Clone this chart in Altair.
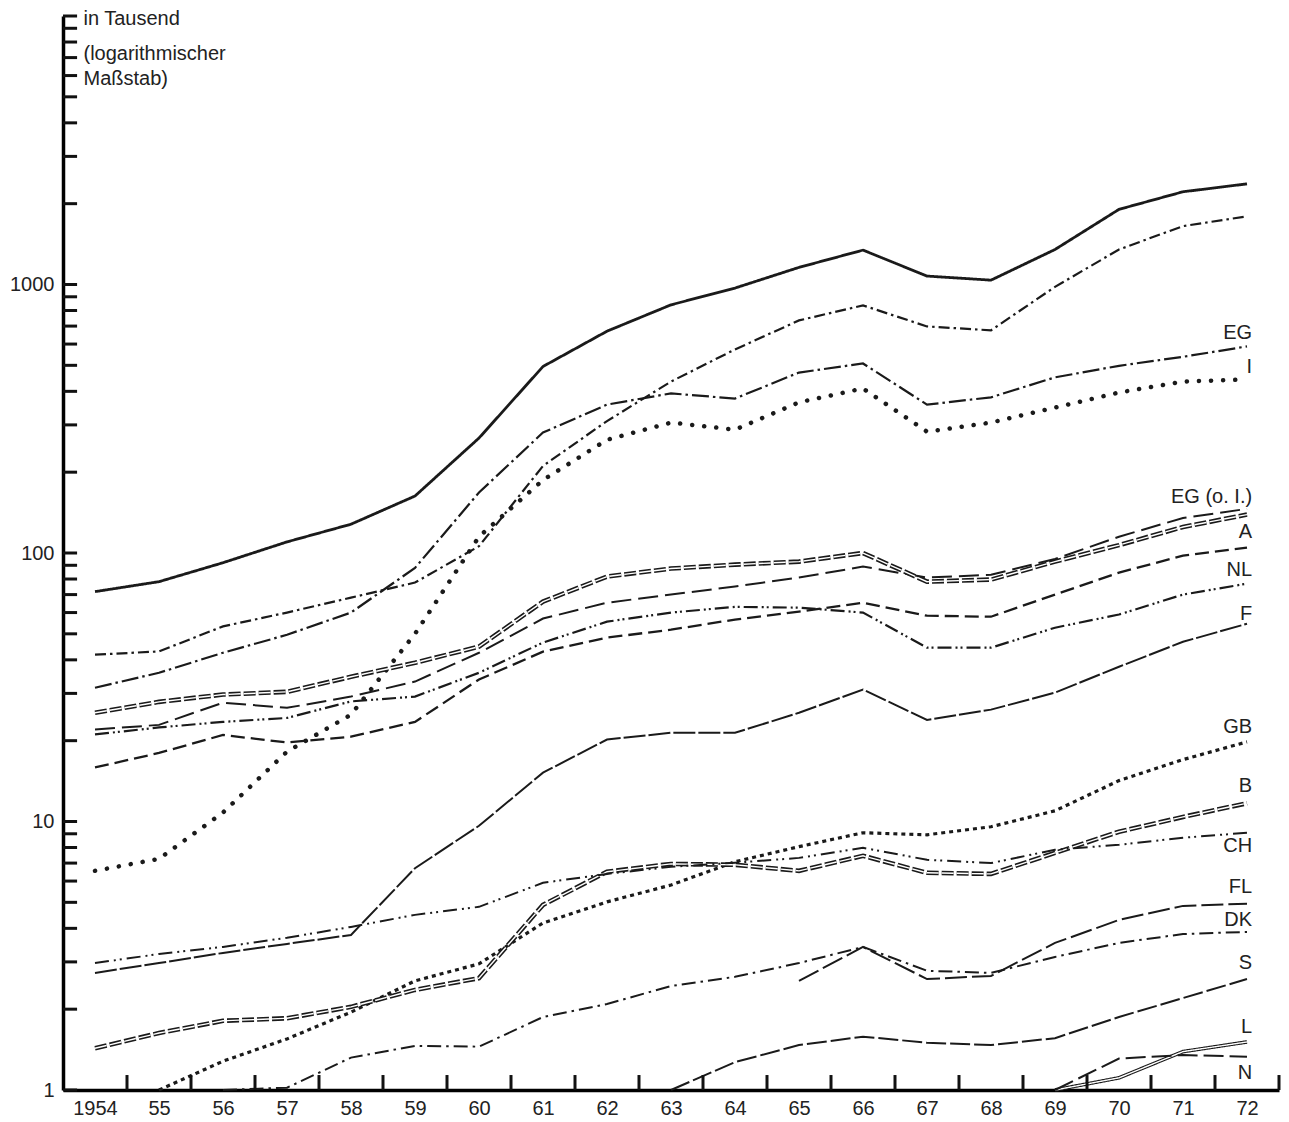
import altair as alt
import pandas as pd

years = list(range(1954, 1973))
NA = None

# values in thousands (log scale)
insgesamt = [71.8, 78.2, 92, 110, 128, 163, 268, 495, 670, 840, 970, 1158, 1343, 1075, 1038, 1350, 1905, 2215, 2370]
nicht_eg = [41.8, 43, 53.3, 60, 68.2, 77.6, 106, 211, 310, 435, 573, 735, 836, 698, 675, 980, 1350, 1650, 1794]
eg = [31.5, 35.8, 42.5, 49.6, 60, 88, 168, 281, 357, 393, 376, 470, 508, 357, 380, 451, 498, 538, 588]
italien = [6.55, 7.26, 10.8, 18.2, 25, 50, 115, 187, 264, 306, 288, 364, 410, 283, 306, 348, 396, 435, 443]
efta = [22, 22.9, 27.7, 26.5, 29.2, 33.2, 42.5, 57, 65.3, 70, 75, 81, 89, 81, 83, 95, 115, 135, 146]
eg_ohne_i = [25.4, 27.9, 29.7, 30.4, 34.6, 39, 44.8, 65.9, 81.7, 87.5, 90.5, 92.9, 100, 78.2, 79.6, 92.9, 107, 125, 139]
oesterreich = [15.9, 18, 21, 19.7, 20.7, 23.5, 33.8, 42.9, 48.4, 51.8, 56.5, 60.5, 65.3, 58.4, 57.9, 70, 84.5, 97.8, 104.7]
niederlande = [21.1, 22.4, 23.5, 24.3, 28, 29.2, 35.8, 46.4, 55.5, 60, 63, 62.6, 60, 44.4, 44.4, 52.7, 59, 70, 76.9]
frankreich = [2.73, 2.97, 3.24, 3.5, 3.78, 6.7, 9.64, 15.2, 20.2, 21.4, 21.4, 25.4, 31, 23.9, 26.1, 30.2, 37.7, 46.7, 54.5]
grossbritannien = [NA, 1.0, 1.28, 1.55, 1.95, 2.55, 2.95, 4.19, 5.02, 5.8, 7.08, 8.06, 9.08, 8.92, 9.56, 10.96, 14.2, 17, 19.8]
belgien = [1.43, 1.63, 1.81, 1.85, 2.04, 2.36, 2.61, 4.89, 6.5, 6.95, 6.9, 6.55, 7.45, 6.44, 6.38, 7.64, 9.16, 10.4, 11.7]
schweiz = [2.97, 3.21, 3.41, 3.69, 4.05, 4.49, 4.81, 5.91, 6.38, 6.78, 7.02, 7.32, 7.98, 7.2, 7.0, 7.85, 8.19, 8.7, 9.08]
finnland = [NA] * 11 + [2.55, 3.41, 2.59, 2.66, 3.53, 4.3, 4.85, 4.94]
daenemark = [NA, NA, 1.0, 1.02, 1.32, 1.46, 1.45, 1.87, 2.09, 2.44, 2.64, 2.97, 3.41, 2.78, 2.73, 3.13, 3.53, 3.81, 3.88]
schweden = [NA] * 9 + [1.0, 1.27, 1.47, 1.58, 1.5, 1.47, 1.56, 1.87, 2.2, 2.59]
luxemburg = [NA] * 15 + [1.0, 1.11, 1.39, 1.51]
norwegen = [NA] * 15 + [1.0, 1.31, 1.35, 1.33]

series = {
    "Insgesamt": insgesamt,
    "Nicht-EG": nicht_eg,
    "EG": eg,
    "I": italien,
    "EFTA": efta,
    "EG (o. I.)": eg_ohne_i,
    "A": oesterreich,
    "NL": niederlande,
    "F": frankreich,
    "GB": grossbritannien,
    "B": belgien,
    "CH": schweiz,
    "FL": finnland,
    "DK": daenemark,
    "S": schweden,
    "L": luxemburg,
    "N": norwegen,
}

# right-hand labels: text and the (log) value where each sits
label_text = ["EG", "I", "EG (o. I.)", "A", "NL", "F", "GB", "B", "CH", "FL", "DK", "S", "L", "N"]
label_value = [662, 491, 162, 120, 86.7, 59.4, 22.5, 13.6, 8.12, 5.71, 4.3, 2.97, 1.72, 1.16]

note_lines = ["in Tausend", "(logarithmischer", "Maßstab)"]
note_value = [9727, 7206, 5808]

x_ticks = [y + 0.5 for y in years]
y_ticks = [m * 10 ** e for e in range(4) for m in range(1, 10)] + [10000]

rows = []
for name, vals in series.items():
    for yr, v in zip(years, vals):
        if v is not None:
            rows.append({"year": yr, "value": v, "series": name})
df = pd.DataFrame(rows)

FONT = "Liberation Sans"
xscale = alt.Scale(domain=[1953.5, 1972.5], nice=False, zero=False)
yscale = alt.Scale(type="log", domain=[1, 10000], nice=False)

xaxis = alt.Axis(
    values=years, ticks=False, tickSize=0, grid=False, title=None,
    domainWidth=3.5, domainColor="black", labelFontSize=20, labelFont=FONT,
    labelColor="#222", labelPadding=8,
    labelExpr="datum.value == 1954 ? '1954' : substring(toString(datum.value), 2, 4)",
)
yaxis = alt.Axis(
    values=[1, 10, 100, 1000], format="d", ticks=False, tickSize=0, grid=False,
    title=None, domainWidth=3.5, domainColor="black", labelFontSize=20,
    labelFont=FONT, labelColor="#222", labelPadding=9,
)

X = alt.X("year:Q", scale=xscale, axis=xaxis)
Y = alt.Y("value:Q", scale=yscale, axis=yaxis)

# style per series: (strokeDash, width, double-line?)
styles = {
    "Insgesamt": ([1, 0], 2.8, False),
    "Nicht-EG": ([11, 4, 2.5, 4], 2.2, False),
    "EG": ([17, 4, 2.5, 4], 2.2, False),
    "I": ([0.1, 12], 4.5, False),
    "EFTA": ([20, 7], 2.0, False),
    "EG (o. I.)": ([12, 3], 4.6, True),
    "A": ([14, 6], 2.3, False),
    "NL": ([14, 4, 2, 3, 2, 4], 2.2, False),
    "F": ([22, 3], 2.0, False),
    "GB": ([4, 4], 3.2, False),
    "B": ([12, 3], 4.6, True),
    "CH": ([14, 5, 2, 4, 2, 5], 2.0, False),
    "FL": ([22, 5], 2.0, False),
    "DK": ([14, 5, 2.5, 5], 2.0, False),
    "S": ([20, 4], 2.0, False),
    "L": ([1, 0], 3.6, True),
    "N": ([20, 6], 2.0, False),
}

layers = []
for name in series:
    dash, width, double = styles[name]
    base = alt.Chart(df).transform_filter(alt.datum.series == name)
    cap = "round" if name == "I" else "butt"
    layers.append(
        base.mark_line(color="#1a1a1a", strokeWidth=width, strokeDash=dash,
                       strokeCap=cap, interpolate="linear").encode(x=X, y=Y)
    )
    if double:
        layers.append(
            base.mark_line(color="white", strokeWidth=1.4, strokeDash=dash,
                           interpolate="linear").encode(x=X, y=Y)
        )

# inward tick marks
xt = pd.DataFrame({"year": x_ticks, "value": [1.0] * len(x_ticks), "v2": [1.137] * len(x_ticks)})
layers.append(
    alt.Chart(xt).mark_rule(color="#111", strokeWidth=3).encode(x=X, y=Y, y2="v2:Q")
)
yt = pd.DataFrame({"value": y_ticks, "year": [1953.5] * len(y_ticks), "x2": [1953.72] * len(y_ticks)})
layers.append(
    alt.Chart(yt).mark_rule(color="#111", strokeWidth=3).encode(x=X, x2="x2:Q", y=Y)
)

lab = pd.DataFrame({"year": [1972.08] * len(label_text), "value": label_value, "txt": label_text})
layers.append(
    alt.Chart(lab).mark_text(align="right", baseline="middle", fontSize=20, font=FONT,
                             color="#222").encode(x=X, y=Y, text="txt:N")
)

note = pd.DataFrame({"year": [1953.82] * 3, "value": note_value, "txt": note_lines})
layers.append(
    alt.Chart(note).mark_text(align="left", baseline="middle", fontSize=20, font=FONT,
                              color="#222").encode(x=X, y=Y, text="txt:N")
)

chart = alt.layer(*layers).properties(
    width=1216,
    height=1074,
    padding={"left": 63, "top": 16, "right": 10, "bottom": 32},
    autosize=alt.AutoSizeParams(type="none"),
    background="white",
).configure_view(stroke=None)

chart.save("out.html", embed_options={"renderer": "svg", "actions": False})
